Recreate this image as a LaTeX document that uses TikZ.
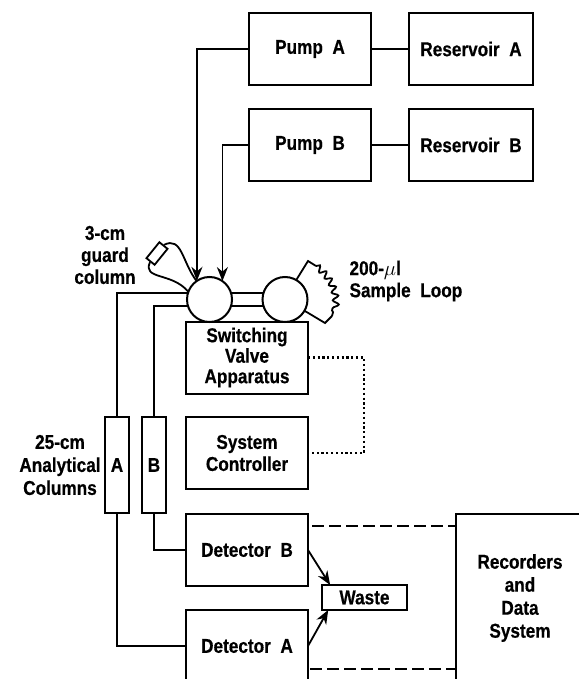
\documentclass[tikz,border=0pt]{standalone}
\usepackage{fontspec}
\setmainfont[FakeStretch=0.86, BoldFeatures={FakeBold=0.5}]{Liberation Sans}
\usetikzlibrary{arrows.meta, decorations.pathmorphing}
\tikzset{
    labeltext/.style={font=\bfseries\fontsize{20}{22}\selectfont, align=center},
    unitbox/.style={draw, labeltext, line width=2pt, minimum width=122pt, minimum height=72pt, inner sep=0pt, outer sep=0pt},
    columnbox/.style={draw, labeltext, line width=2pt, minimum width=24pt, minimum height=96pt, inner sep=0pt, outer sep=0pt},
    valve/.style={draw, circle, line width=2pt, minimum size=45pt, inner sep=0pt, outer sep=0pt},
    pipe/.style={line width=1.8pt},
    flow/.style={line width=1.8pt, -{Stealth[length=14pt, width=11pt]}},
    signal/.style={line width=1.6pt, dash pattern=on 12pt off 5pt},
    control/.style={line width=2.2pt, dash pattern=on 2.2pt off 2.6pt}
}
\begin{document}
\begin{tikzpicture}[x=1pt, y=-1pt]
\useasboundingbox (0, 0) rectangle (578, 679);
% Pumps and reservoirs
\node[unitbox] (pumpA) at (310, 49) {Pump~~A};
\node[unitbox] (pumpB) at (310, 145) {Pump~~B};
\node[unitbox, minimum width=124pt] (resA) at (471, 49) {Reservoir~~A};
\node[unitbox, minimum width=124pt] (resB) at (471, 145) {Reservoir~~B};
\foreach \n in {A, B} {
    \draw[pipe] (pump\n) -- (res\n);
}

% Valves
\node[valve] (valveL) at (209.5, 299.5) {};
\node[valve] (valveR) at (285, 299.5) {};
\draw[pipe] (valveL.17) -- (valveR.163);
\draw[pipe] (valveL.-17) -- (valveR.197);
\draw[flow] (pumpA.west) -| (valveL.124);
\draw[flow] (pumpB.west) -| (valveL.55);

% Guard column
\node[draw, line width=1.8pt, minimum width=20.5pt, minimum height=10.5pt, inner sep=0pt, rotate=51] (guard) at (157, 253.5) {};
\node[labeltext] (guardtext) at (105, 255) {3-cm\\guard\\column};
\draw[pipe] (guard.east) .. controls (182, 236) and (182, 262) .. (valveL.125);
\draw[pipe] (guard.west) .. controls (142, 280) and (172, 272) .. (valveL.160);

% Sample loop
\coordinate (loopA) at (308, 261);
\coordinate (loopB) at (316, 266);
\coordinate (loopC) at (332, 316);
\coordinate (loopD) at (325, 323);
\draw[pipe] (valveR.60) -- (loopA) -- (loopB);
\draw[pipe, decorate, decoration={snake, amplitude=3pt, segment length=8.5pt}] (loopB) to[bend left=34] (loopC);
\draw[pipe] (loopC) -- (loopD) -- (valveR.-30);
\node[labeltext, align=left, anchor=west] (looptext) at (346, 281) {200-$\mu$l\\Sample~~Loop};

% Controller
\node[unitbox, font=\bfseries\fontsize{20}{20.5}\selectfont] (switching) at (247, 357.5) {Switching\\Valve\\Apparatus};
\node[unitbox] (controller) at (247, 453) {System\\Controller};
\draw[control] (switching.east) -- ++(56, 0) |- (controller.east);

% Analytical columns
\node[columnbox] (colA) at (117, 465) {A};
\node[columnbox] (colB) at (154, 465) {B};
\node[labeltext, font=\bfseries\fontsize{20}{23}\selectfont] (coltext) at (60, 465) {25-cm\\Analytical\\Columns};
\draw[pipe] (valveL.163) -| (colA.north);
\draw[pipe] (valveL.197) -| (colB.north);

% Detectors
\node[unitbox] (detB) at (247, 550) {Detector~~B};
\node[unitbox] (detA) at (247, 646) {Detector~~A};
\node[draw, labeltext, line width=2pt, minimum width=85pt, minimum height=25pt, inner sep=0pt, outer sep=0pt] (waste) at (364.5, 597.5) {Waste};
\draw[pipe] (colB.south) |- (detB.west);
\draw[pipe] (colA.south) |- (detA.west);
\draw[flow] (detB.east) -- (waste.160.6);
\draw[flow] (detA.east) -- (waste.199.4);

% Recorders
\node[unitbox, minimum width=128pt, minimum height=168pt, font=\bfseries\fontsize{20}{23}\selectfont] (recorders) at (520, 598) {Recorders\\and\\Data\\System};
\coordinate (dashB) at (312, 526);
\coordinate (dashA) at (310, 669);
\draw[signal] (dashB) -- (dashB -| recorders.west);
\draw[signal] (dashA) -- (dashA -| recorders.west);
\end{tikzpicture}
\end{document}
